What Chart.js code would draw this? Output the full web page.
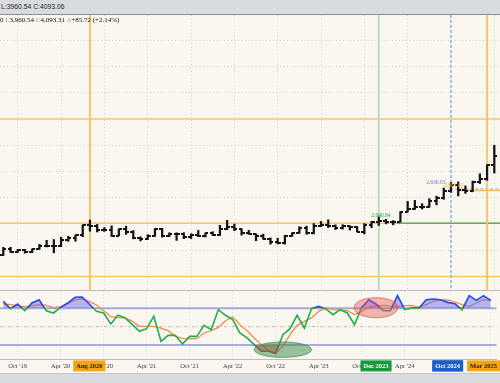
<!DOCTYPE html>
<html>
<head>
<meta charset="utf-8">
<title>Gold monthly with RSI</title>
<script src="https://cdn.jsdelivr.net/npm/chart.js@4.4.1/dist/chart.umd.min.js"></script>
<style>
  html, body { margin: 0; padding: 0; background: #faf7f0; }
  #wrap { position: relative; width: 500px; height: 383px; overflow: hidden; background: #faf7f0; }
  #head { position: absolute; left: 0; top: 0; width: 500px; height: 14px; background: #d8dce0; border-bottom: 1px solid #8c9096;
          font: 6.8px "Liberation Sans", Arial, sans-serif; line-height: 14px; color: #1c1c1c; text-indent: 1px; }
  #quote { position: absolute; left: 0; top: 16px; font: 7px "Liberation Serif", serif; line-height: 9px; color: #111; white-space: pre; z-index: 2; }
  #quote .k { color: #9a9a9a; }
  #price { position: absolute; left: 0; top: 15px; }
  #sep { position: absolute; left: 0; top: 290px; width: 500px; height: 1px; background: #bcbcbc; }
  #rsi { position: absolute; left: 0; top: 291px; }
  #foot { position: absolute; left: 0; top: 373px; width: 500px; height: 10px; background: #d8dce0; border-top: 1px solid #c4c7cb; }
</style>
</head>
<body>
<div id="wrap">
  <div id="head">L:3960.54 C:4093.06</div>
  <canvas id="price" width="500" height="275"></canvas>
  <div id="quote">0 <span class="k">L</span>3,960.54 <span class="k">C</span>4,093.31 <span class="k">Δ</span>+85.72 (+2.14%)</div>
  <div id="sep"></div>
  <canvas id="rsi" width="500" height="82"></canvas>
  <div id="foot"></div>
</div>
<script>
// monthly bars, Aug 2019 .. Apr 2025
const months = [
  '2019-08','2019-09','2019-10','2019-11','2019-12',
  '2020-01','2020-02','2020-03','2020-04','2020-05','2020-06','2020-07','2020-08','2020-09','2020-10','2020-11','2020-12',
  '2021-01','2021-02','2021-03','2021-04','2021-05','2021-06','2021-07','2021-08','2021-09','2021-10','2021-11','2021-12',
  '2022-01','2022-02','2022-03','2022-04','2022-05','2022-06','2022-07','2022-08','2022-09','2022-10','2022-11','2022-12',
  '2023-01','2023-02','2023-03','2023-04','2023-05','2023-06','2023-07','2023-08','2023-09','2023-10','2023-11','2023-12',
  '2024-01','2024-02','2024-03','2024-04','2024-05','2024-06','2024-07','2024-08','2024-09','2024-10','2024-11','2024-12',
  '2025-01','2025-02','2025-03','2025-04'
];
const open = [
  1413,1520,1472,1513,1464,
  1517,1589,1585,1577,1687,1730,1781,1975,1968,1886,1879,1777,
  1898,1847,1734,1708,1769,1907,1770,1814,1814,1743,1783,1774,
  1829,1797,1909,1937,1897,1837,1807,1765,1711,1660,1633,1768,
  1824,1928,1826,1969,1990,1963,1919,1965,1940,1849,1983,2036,
  2063,2039,2044,2230,2286,2327,2326,2447,2503,2634,2744,2653,
  2625,2798,2858,3124
];
const high = [
  1555,1557,1517,1516,1525,
  1611,1689,1704,1747,1765,1789,1984,2075,1992,1933,1965,1906,
  1959,1875,1755,1797,1913,1917,1833,1832,1834,1814,1877,1832,
  1853,1975,2070,1998,1910,1879,1814,1807,1735,1729,1786,1833,
  1949,1959,2009,2048,2079,1984,1987,1966,1953,2009,2052,2135,
  2088,2065,2236,2431,2450,2387,2483,2531,2685,2790,2801,2726,
  2817,2956,3128,3500
];
const low = [
  1400,1459,1459,1445,1454,
  1517,1563,1451,1568,1670,1671,1757,1863,1848,1860,1764,1775,
  1802,1717,1677,1705,1765,1750,1761,1688,1721,1722,1758,1753,
  1780,1780,1890,1872,1787,1805,1681,1710,1615,1618,1616,1765,
  1823,1804,1810,1949,1932,1893,1903,1884,1848,1810,1931,1973,
  2002,1984,2039,2228,2277,2286,2318,2364,2471,2604,2536,2583,
  2614,2772,2832,2970
];
const close = [
  1520,1472,1513,1464,1517,
  1589,1585,1577,1687,1730,1781,1975,1968,1886,1879,1777,1898,
  1847,1734,1708,1769,1907,1770,1814,1814,1743,1783,1774,1829,
  1797,1909,1937,1897,1837,1807,1765,1711,1660,1633,1768,1824,
  1928,1826,1969,1990,1963,1919,1965,1940,1849,1983,2036,2063,
  2039,2044,2230,2286,2327,2326,2447,2503,2634,2744,2653,2625,
  2798,2858,3124,3289
];
const rsi = [
  77.6,69.6,74.7,67.4,75.8,
  79.4,67.4,64.9,71,75.8,82,82.4,74.7,66.7,64.9,52.9,62.4,
  59.5,52.2,44.9,47.8,61.2,34,40.5,40.5,31.1,39.4,39.4,51.4,
  46.7,68.5,62.4,57.6,43.1,37.7,30.4,23.1,23.1,20.6,41.3,47.8,
  62.4,48.5,69.6,72.1,69.3,63.1,68.5,64.9,52.2,71,79.4,74.7,
  67.4,67.4,83.8,68.5,70.4,70.4,79.4,80.2,79.4,76.5,75,68.5,
  83.8,78.7,83.8,78.7
];
const rsiAvg = [
  74.7,74,72.9,71.5,72.6,
  74,73.3,70.7,71.8,75,79.1,80.2,77.6,73.7,67.4,60.9,59.8,
  59.5,55.8,50.3,50.3,50.3,48.5,45.6,39.4,37.2,36.9,36.9,43.1,
  45.6,49.2,56.5,60.6,52.2,45.6,37.7,30.4,23.8,21.3,28.5,41.3,
  51.4,55.8,59.5,66.7,70.4,68.5,68.2,67.4,63.1,66.7,71,72.6,
  73.3,72.6,72.1,72.9,73.3,71,74,77.6,79.1,79.1,76.9,74,
  72.1,75.8,79.4,78.3
];

const tickMonths = ['2019-10','2020-04','2020-10','2021-04','2021-10','2022-04','2022-10','2023-04','2023-10','2024-04','2024-10','2025-04'];
const tickLabels = ["Oct '19","Apr '20","Oct '20","Apr '21","Oct '21","Apr '22","Oct '22","Apr '23","Oct '23","Apr '24","Oct '24","Apr '25"];
const markMonths = ['2020-08','2023-12','2024-10','2025-03'];
const markLabels = ['Aug 2020','Dec 2023','Oct 2024','Mar 2025'];
const priceGrid = [1000,1500,2000,2500,3000,3500,4000,4500,5000,5500];

// drawn levels and notes on the price panel
const levelValue = [4000, 2015, 1000, 2015, 2667, 2638];
const levelFrom = [null, null, null, 54.5, 61.9, 63];
const noteText = ['2,040.84', '2,630.63', '2,881.61'];
const noteMonth = [52.3, 59.9, 62.4];
const notePrice = [2158, 2794, 2737];

// rsi panel
const rsiLevels = [70, 50, 30];
const ovalMonth = [52, 39];
const ovalMonthHalf = [3.05, 4];
const ovalRsi = [70.7, 24.9];
const ovalRsiHalf = [10.9, 8.4];

const ORANGE = '#f9c46a', GREEN = '#b9ddbb', BLUE = '#a8c3e0';
const levelStyle = [
  {color: ORANGE}, {color: ORANGE}, {color: ORANGE},
  {color: '#55b85f'}, {color: '#a9bfd8', dash: [3, 2]}, {color: '#f7bd5a'}
];
const vlineStyle = [
  {color: ORANGE}, {color: GREEN}, {color: BLUE, dash: [3, 2]}, {color: ORANGE}
];
const markStyle = [
  {bg: '#f6a511', fg: '#1a1a1a'}, {bg: '#179a3b', fg: '#ffffff'},
  {bg: '#1c5fc6', fg: '#ffffff'}, {bg: '#f6a511', fg: '#1a1a1a'}
];
const noteColor = ['#2c9a3e', '#5b85c2', '#f2a526'];

const X_MIN = -0.457, X_MAX = 68.79;
const at = m => months.indexOf(m);
const tickIdx = tickMonths.map(at);
const markIdx = markMonths.map(at);
const SERIF = '"Liberation Serif", "Times New Roman", serif';

function tickMark(side){
  const c = document.createElement('canvas');
  c.width = 6; c.height = 2;
  const g = c.getContext('2d');
  g.fillStyle = '#151515';
  g.fillRect(side === 'left' ? 0 : 3, 0, 3, 2);
  return c;
}

const priceMarks = {
  id: 'priceMarks',
  beforeDatasetsDraw(chart){
    const {ctx, chartArea: a, scales: {x, y}} = chart;
    ctx.save();
    ctx.lineWidth = 1.6;
    levelValue.forEach((v, i) => {
      const st = levelStyle[i];
      const py = y.getPixelForValue(v);
      const x0 = levelFrom[i] == null ? a.left : x.getPixelForValue(levelFrom[i]);
      ctx.strokeStyle = st.color;
      ctx.setLineDash(st.dash || []);
      ctx.beginPath(); ctx.moveTo(x0, py); ctx.lineTo(a.right, py); ctx.stroke();
    });
    ctx.lineWidth = 2;
    markIdx.forEach((m, i) => {
      const st = vlineStyle[i];
      const px = x.getPixelForValue(m);
      ctx.strokeStyle = st.color;
      ctx.setLineDash(st.dash || []);
      ctx.beginPath(); ctx.moveTo(px, a.top); ctx.lineTo(px, a.bottom); ctx.stroke();
    });
    ctx.restore();
  },
  afterDatasetsDraw(chart){
    const {ctx, scales: {x, y}} = chart;
    ctx.save();
    ctx.font = '5.5px ' + SERIF;
    ctx.textAlign = 'center';
    ctx.textBaseline = 'middle';
    noteText.forEach((t, i) => {
      ctx.fillStyle = noteColor[i];
      ctx.fillText(t, x.getPixelForValue(noteMonth[i]), y.getPixelForValue(notePrice[i]));
    });
    ctx.restore();
  }
};

new Chart(document.getElementById('price'), {
  type: 'bar',
  data: {
    datasets: [
      { type: 'bar', data: months.map((m, i) => ({x: i, y: [low[i], high[i]]})),
        backgroundColor: '#151515', barThickness: 1.6, borderWidth: 0 },
      { type: 'scatter', data: months.map((m, i) => ({x: i, y: open[i]})),
        pointStyle: tickMark('left'), pointRadius: 3 },
      { type: 'scatter', data: months.map((m, i) => ({x: i, y: close[i]})),
        pointStyle: tickMark('right'), pointRadius: 3 }
    ]
  },
  options: {
    responsive: false, animation: false,
    layout: {padding: 0, autoPadding: false},
    plugins: {legend: {display: false}, tooltip: {enabled: false}},
    scales: {
      x: { type: 'linear', min: X_MIN, max: X_MAX, offset: false,
        afterBuildTicks: s => { s.ticks = tickIdx.map(v => ({value: v})); },
        afterFit: s => { s.height = 0; },
        ticks: {display: false},
        grid: {color: '#d3d0c9', lineWidth: 1, drawTicks: false, offset: false},
        border: {display: false, dash: [1, 2.5]} },
      y: { min: 742.7, max: 5981,
        afterBuildTicks: s => { s.ticks = priceGrid.map(v => ({value: v})); },
        afterFit: s => { s.width = 0; },
        ticks: {display: false},
        grid: {color: '#d3d0c9', lineWidth: 1, drawTicks: false},
        border: {display: false, dash: [1, 2.5]} }
    }
  },
  plugins: [priceMarks]
});

function rsiStroke(c){
  const chart = c.chart;
  const a = chart.chartArea;
  if (!a) return '#1fae4b';
  const y = chart.scales.y;
  const h = a.bottom - a.top;
  const t = Math.min(1, Math.max(0, (y.getPixelForValue(70) - a.top) / h));
  const b = Math.min(1, Math.max(0, (y.getPixelForValue(30) - a.top) / h));
  const g = chart.ctx.createLinearGradient(0, a.top, 0, a.bottom);
  g.addColorStop(0, '#2a46ea'); g.addColorStop(t, '#2a46ea');
  g.addColorStop(t, '#20ad4c'); g.addColorStop(b, '#20ad4c');
  g.addColorStop(b, '#c8383a'); g.addColorStop(1, '#c8383a');
  return g;
}

const rsiMarks = {
  id: 'rsiMarks',
  beforeDatasetsDraw(chart){
    const {ctx, chartArea: a, scales: {y}} = chart;
    ctx.save();
    rsiLevels.forEach(v => {
      const py = y.getPixelForValue(v);
      if (v === 50) { ctx.strokeStyle = '#b7b2cc'; ctx.lineWidth = 1; ctx.setLineDash([3, 2, 1, 2]); }
      else { ctx.strokeStyle = '#aaadd8'; ctx.lineWidth = 2; ctx.setLineDash([]); }
      ctx.beginPath(); ctx.moveTo(a.left, py); ctx.lineTo(a.right, py); ctx.stroke();
    });
    ctx.restore();
  },
  afterDatasetsDraw(chart){
    const {ctx, scales: {x, y}} = chart;
    const fills = ['rgba(232,88,88,0.42)', 'rgba(52,140,70,0.5)'];
    const edges = ['rgba(226,80,80,0.75)', 'rgba(52,140,70,0.7)'];
    ctx.save();
    ovalMonth.forEach((m, i) => {
      const cx = x.getPixelForValue(m), cy = y.getPixelForValue(ovalRsi[i]);
      const rx = Math.abs(x.getPixelForValue(m + ovalMonthHalf[i]) - cx);
      const ry = Math.abs(y.getPixelForValue(ovalRsi[i] + ovalRsiHalf[i]) - cy);
      ctx.beginPath(); ctx.ellipse(cx, cy, rx, ry, 0, 0, Math.PI * 2);
      ctx.fillStyle = fills[i]; ctx.fill();
      ctx.lineWidth = 1; ctx.strokeStyle = edges[i]; ctx.stroke();
    });
    ctx.restore();
  }
};

const isMark = v => markIdx.includes(v);

new Chart(document.getElementById('rsi'), {
  type: 'line',
  data: {
    datasets: [
      { data: months.map((m, i) => ({x: i, y: rsi[i]})), borderColor: rsiStroke, borderWidth: 1.6,
        pointRadius: 0, tension: 0,
        fill: {target: {value: 70}, above: 'rgba(92,100,236,0.45)', below: 'rgba(0,0,0,0)'} },
      { data: months.map((m, i) => ({x: i, y: rsi[i]})), borderColor: 'rgba(0,0,0,0)', borderWidth: 0,
        pointRadius: 0, tension: 0,
        fill: {target: {value: 30}, above: 'rgba(0,0,0,0)', below: 'rgba(214,60,60,0.5)'} },
      { data: months.map((m, i) => ({x: i, y: rsiAvg[i]})), borderColor: '#f28a48', borderWidth: 1.3,
        pointRadius: 0, tension: 0, fill: false }
    ]
  },
  options: {
    responsive: false, animation: false,
    layout: {padding: 0, autoPadding: false},
    plugins: {legend: {display: false}, tooltip: {enabled: false}},
    scales: {
      x: { type: 'linear', min: X_MIN, max: X_MAX, offset: false,
        afterBuildTicks: s => { s.ticks = tickIdx.concat(markIdx).map(v => ({value: v})); },
        afterFit: s => { s.height = 14; },
        ticks: {
          autoSkip: false, maxRotation: 0, padding: 3,
          callback: v => {
            const j = markIdx.indexOf(v);
            if (j >= 0) return markLabels[j];
            const i = tickIdx.indexOf(v);
            return i >= 0 ? tickLabels[i] : '';
          },
          font: c => ({family: SERIF, size: 6.5, weight: isMark(c.tick && c.tick.value) ? 'bold' : 'normal'}),
          color: c => { const j = markIdx.indexOf(c.tick && c.tick.value); return j >= 0 ? markStyle[j].fg : '#3a3a3a'; },
          showLabelBackdrop: c => isMark(c.tick && c.tick.value),
          backdropColor: c => { const j = markIdx.indexOf(c.tick && c.tick.value); return j >= 0 ? markStyle[j].bg : 'rgba(0,0,0,0)'; },
          backdropPadding: {x: 3, y: 1.6}
        },
        grid: {color: c => isMark(c.tick && c.tick.value) ? 'rgba(0,0,0,0)' : '#e0ddd6', drawTicks: false, offset: false},
        border: {display: true, color: '#bdbdbd', width: 1, dash: [1, 2.5]} },
      y: { display: false, min: 14.7, max: 88.9 }
    }
  },
  plugins: [rsiMarks]
});
</script>
</body>
</html>
